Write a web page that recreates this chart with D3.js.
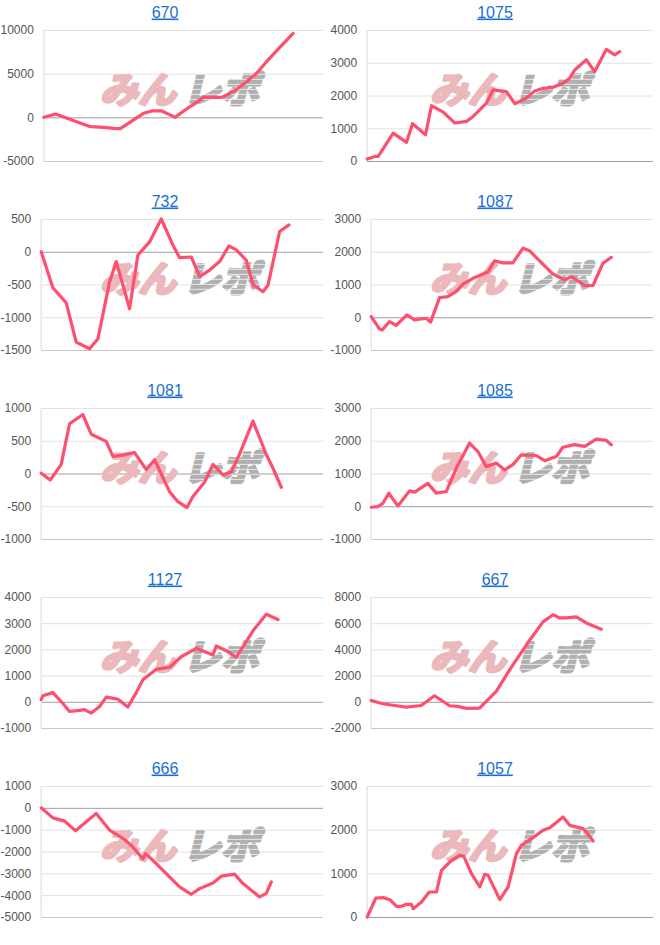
<!DOCTYPE html>
<html><head><meta charset="utf-8">
<script src="https://cdn.jsdelivr.net/npm/d3@7"></script>
<style>body{margin:0;background:#fff} svg{display:block}</style>
</head><body>
<svg id="c" width="660" height="945"></svg>
<script>
// ---- data ----
const titles = ["670","1075","732","1087","1081","1085","1127","667","666","1057"];

const games670 = [0,333,1333,1714,2000,2190,2571,2857,3095,3381,3762,4048,4333,4571,5095,5429,5810,6095,6381,6762,7143];
const diff670  = [0,380,-1070,-1150,-1260,-1300,-300,460,730,730,0,840,1600,2290,2290,2940,4080,5040,6370,8020,9620];

const games1075 = [0,214,308,727,1100,1268,1455,1632,1800,2126,2452,2779,2965,3338,3524,3897,4131,4457,4690,4923,5203,5483,5669,5809,6135,6368,6695,6928,7068];
const diff1075  = [60,140,140,850,570,1140,970,800,1690,1490,1160,1210,1360,1770,2170,2120,1750,1920,2140,2220,2250,2375,2530,2780,3090,2730,3410,3240,3340];

const games732 = [0,331,710,994,1373,1609,1941,2130,2509,2745,3077,3408,3740,3929,4260,4497,4781,5065,5330,5538,5822,6012,6296,6438,6769,7034];
const diff732  = [0,-550,-780,-1380,-1480,-1330,-460,-150,-870,-50,150,500,100,-90,-80,-380,-280,-150,90,30,-130,-500,-610,-510,310,410];

const games1087 = [0,237,312,521,710,1013,1231,1562,1685,1941,2177,2414,2603,2887,3313,3503,3740,4023,4308,4497,4781,5160,5491,5680,6059,6296,6580,6816];
const diff1087  = [20,-360,-390,-130,-250,70,-80,-30,-150,600,630,790,1010,1190,1380,1720,1660,1660,2110,2030,1720,1320,1140,1240,970,970,1650,1830];

const games1081 = [0,256,568,805,1183,1420,1846,2035,2319,2651,2982,3219,3645,3882,4137,4308,4639,4876,5160,5396,5633,6012,6390,6580,6816];
const diff1081  = [5,-100,140,760,900,600,490,260,280,320,60,210,-280,-430,-520,-350,-130,140,-20,20,300,800,290,80,-210];

const games1085 = [0,189,331,502,615,757,1089,1231,1609,1846,2130,2414,2793,3029,3266,3550,3787,4023,4260,4686,4923,5254,5443,5775,6059,6390,6674,6816];
const diff1085  = [-30,-10,90,400,220,10,470,430,700,400,450,1160,1930,1670,1210,1320,1110,1270,1570,1550,1390,1520,1800,1880,1830,2050,2010,1880];

const games1127 = [0,47,331,568,805,1089,1231,1420,1657,1846,2177,2461,2698,2887,3266,3645,3976,4402,4876,4970,5254,5538,6012,6390,6722];
const diff1127  = [80,230,350,10,-370,-330,-300,-430,-180,180,100,-200,350,840,1240,1320,1720,2040,1790,2130,1950,1700,2710,3340,3140];

const games667 = [0,331,710,994,1420,1799,2225,2461,2698,3077,3266,3550,3929,4497,4876,5160,5349,5538,5822,6106,6533];
const diff667  = [100,-150,-300,-400,-280,460,-300,-350,-500,-480,30,790,2430,4700,6100,6650,6400,6400,6480,6020,5540];

const games666 = [0,331,663,975,1278,1562,1941,2367,2603,2887,2963,3266,3550,3929,4260,4497,4876,5112,5491,5727,6201,6390,6533];
const diff666  = [0,-460,-610,-1050,-640,-260,-1020,-1450,-1790,-2340,-2100,-2550,-3010,-3620,-3960,-3700,-3440,-3130,-3040,-3470,-4080,-3920,-3390];

const games1057 = [0,242,448,634,821,960,1100,1240,1287,1520,1734,1939,2079,2359,2592,2704,2918,3152,3291,3385,3711,3944,4177,4317,4643,4923,5110,5483,5669,6042,6135,6322];
const diff1057  = [0,435,443,397,244,244,290,290,191,344,573,573,1069,1298,1412,1389,992,687,977,954,397,687,1450,1641,1817,1985,2046,2290,2099,2023,1947,1740];

const ticks670  = [-5000,0,5000,10000];
const ticks1075 = [0,1000,2000,3000,4000];
const ticks732  = [-1500,-1000,-500,0,500];
const ticks1087 = [-1000,0,1000,2000,3000];
const ticks1081 = [-1000,-500,0,500,1000];
const ticks1085 = [-1000,0,1000,2000,3000];
const ticks1127 = [-1000,0,1000,2000,3000,4000];
const ticks667  = [-2000,0,2000,4000,6000,8000];
const ticks666  = [-5000,-4000,-3000,-2000,-1000,0,1000];
const ticks1057 = [0,1000,2000,3000];

const gamesDomain = [0, 8000];

const gamesList = [games670,games1075,games732,games1087,games1081,games1085,games1127,games667,games666,games1057];
const diffList  = [diff670,diff1075,diff732,diff1087,diff1081,diff1085,diff1127,diff667,diff666,diff1057];
const ticksList = [ticks670,ticks1075,ticks732,ticks1087,ticks1081,ticks1085,ticks1127,ticks667,ticks666,ticks1057];

// ---- drawing ----
const FONT = "'Liberation Sans', Arial, sans-serif";
const svg = d3.select("#c");
const defs = svg.append("defs");
const pat = defs.append("pattern").attr("id","stripes").attr("patternUnits","userSpaceOnUse")
  .attr("width",6).attr("height",5);
pat.append("rect").attr("width",6).attr("height",5).attr("fill","#b0b0b0");
pat.append("rect").attr("y",4).attr("width",6).attr("height",1).attr("fill","#e4e4e4");

titles.forEach((title, i) => {
  const col = i % 2, row = Math.floor(i / 2);
  const x0 = col * 330, y0 = row * 189;
  const ticks = ticksList[i];
  const data = gamesList[i].map((g, k) => [g, diffList[i][k]]);
  const g = svg.append("g");

  g.append("text").attr("x", x0 + 165).attr("y", y0 + 17.5)
    .attr("text-anchor","middle").attr("font-family",FONT).attr("font-size",16)
    .attr("fill","#1a6fd4").style("text-decoration","underline").text(title);

  const tmp = g.append("g").attr("font-family",FONT).attr("font-size",12);
  let maxW = 0;
  ticks.forEach(t => { const tt = tmp.append("text").text(String(t)); maxW = Math.max(maxW, tt.node().getComputedTextLength()); });
  tmp.remove();

  const L = x0 + maxW + 10.5, R = x0 + 323, T = y0 + 30, B = y0 + 161;
  const x = d3.scaleLinear().domain(gamesDomain).range([L, R]);
  const y = d3.scaleLinear().domain(d3.extent(ticks)).range([B, T]);

  const ax = g.append("g").attr("transform",`translate(${L},0)`)
    .call(d3.axisLeft(y).tickValues(ticks).tickSize(-(R - L)).tickPadding(10).tickFormat(d => String(d)));
  ax.attr("font-family",FONT).attr("font-size",12);
  ax.select(".domain").remove();
  ax.selectAll(".tick line").attr("stroke", d => d === 0 ? "#9e9e9e" : (d === ticks[0] ? "#c8c8c8" : "#e2e2e2"));
  ax.selectAll(".tick").filter(d => d === 0).raise();
  ax.selectAll(".tick text").attr("fill","#555");

  g.append("line").attr("x1",L).attr("x2",L).attr("y1",T).attr("y2",B)
    .attr("stroke","#e6e6e6").attr("stroke-width",1.5);

  // watermark
  const wx = x0 + 181, wy = y0 + 103;
  const wm = g.append("g").attr("transform",`translate(${wx},${wy}) skewX(-14) translate(${-wx},${-wy})`)
    .attr("font-family","'Noto Sans CJK JP', sans-serif").attr("font-weight",700).attr("font-size",36)
    .attr("stroke-linejoin","round");
  wm.append("text").attr("x", x0 + 100).attr("y", wy).attr("textLength",76).attr("lengthAdjust","spacingAndGlyphs")
    .attr("fill","#ebb9bb").attr("stroke","#ebb9bb").attr("stroke-width",3).text("みん");
  wm.append("text").attr("x", x0 + 183).attr("y", wy).attr("textLength",76).attr("lengthAdjust","spacingAndGlyphs")
    .attr("fill","url(#stripes)").attr("stroke","url(#stripes)").attr("stroke-width",3).text("レポ");

  g.append("path").datum(data)
    .attr("d", d3.line().x(d => x(d[0])).y(d => y(d[1])))
    .attr("fill","none").attr("stroke","#ff4f6e").attr("stroke-width",3.2)
    .attr("stroke-linejoin","round").attr("stroke-linecap","round");
});
</script>
</body></html>
